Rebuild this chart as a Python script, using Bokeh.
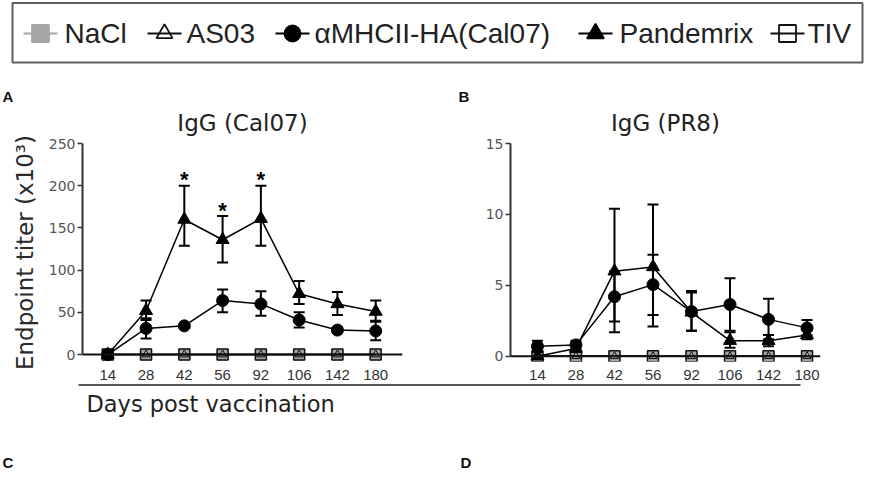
from bokeh.plotting import figure
from bokeh.layouts import column, row
from bokeh.models import (Range1d, FixedTicker, Span, Whisker, TeeHead,
                          ColumnDataSource, Title)
from bokeh.core.properties import value
from bokeh.embed import file_html
from bokeh.resources import INLINE

# ---------------- data ----------------
days = ["14", "28", "42", "56", "92", "106", "142", "180"]
series_names = ["NaCl", "AS03", "\u03b1MHCII-HA(Cal07)", "Pandemrix", "TIV"]

# Panel A: IgG (Cal07), endpoint titer (x10^3)
a_nacl = [0, 0, 0, 0, 0, 0, 0, 0]
a_as03 = [0, 0, 0, 0, 0, 0, 0, 0]
a_tiv = [0, 0, 0, 0, 0, 0, 0, 0]
a_mhc = [0, 31, 34, 64, 60, 41, 29, 28]
a_mhc_hi = [0, 43, 36, 77, 75, 50, 32, 39]
a_mhc_lo = [0, 19, 32, 50, 46, 32, 26, 17]
a_pan = [0, 52, 160, 136, 161, 72, 60, 51]
a_pan_hi = [0, 64, 200, 164, 200, 87, 74, 64]
a_pan_lo = [0, 41, 129, 109, 129, 60, 47, 40]
a_sig = ["42", "56", "92"]

# Panel B: IgG (PR8)
b_nacl = [0, 0, 0, 0, 0, 0, 0, 0]
b_as03 = [0, 0, 0, 0, 0, 0, 0, 0]
b_tiv = [0, 0, 0, 0, 0, 0, 0, 0]
b_mhc = [0.7, 0.8, 4.2, 5.05, 3.15, 3.65, 2.6, 2.0]
b_mhc_hi = [1.1, 1.1, 6.0, 7.15, 4.6, 5.5, 4.05, 2.55]
b_mhc_lo = [0.3, 0.5, 2.45, 2.9, 1.8, 1.8, 1.2, 1.5]
b_pan = [0.0, 0.55, 6.0, 6.3, 3.1, 1.1, 1.1, 1.5]
b_pan_hi = [0.0, 0.8, 10.4, 10.7, 4.5, 1.7, 1.5, 1.85]
b_pan_lo = [0.0, 0.3, 1.7, 2.1, 1.8, 0.6, 0.7, 1.2]

a_yticks = [0, 50, 100, 150, 200, 250]
b_yticks = [0, 5, 10, 15]

# ---------------- styles ----------------
NACL_GRAY = "#a6a6a6"
TXT = "#222222"
FONT = "DejaVu Sans"
FONT2 = "Liberation Sans"
W = 866

xi = list(range(len(days)))


def panel(title, letter, letter_offset, nacl, as03, tiv, mhc, mhc_hi, mhc_lo,
          pan, pan_hi, pan_lo, yticks, ystart, width, bl, br, bt, bb,
          xr, sig=None, ylabel=None):
    p = figure(width=width, height=302, x_range=Range1d(*xr),
               y_range=Range1d(ystart, yticks[-1]),
               output_backend="svg", toolbar_location=None,
               min_border_left=bl, min_border_right=br,
               min_border_top=bt, min_border_bottom=bb,
               outline_line_color=None)
    p.xgrid.visible = False
    p.ygrid.visible = False
    # panel letter (outermost) and panel title (next to the frame)
    p.title.text = letter
    p.title.text_font = FONT2
    p.title.text_font_size = "15px"
    p.title.text_font_style = "bold"
    p.title.text_color = "#111111"
    p.title.align = "left"
    p.title.offset = letter_offset
    p.title.standoff = -10
    tt = Title(text=title, align="center", text_font=FONT,
               text_font_size="23px", text_font_style="normal",
               text_color=TXT, standoff=16)
    p.add_layout(tt, "above")

    # axes
    p.yaxis.ticker = FixedTicker(ticks=yticks)
    p.yaxis.bounds = (yticks[0], yticks[-1])
    p.yaxis.axis_line_width = 2
    p.yaxis.axis_line_color = "#333333"
    p.yaxis.major_tick_line_width = 1.5
    p.yaxis.major_tick_line_color = "#333333"
    p.yaxis.major_tick_out = 5
    p.yaxis.major_tick_in = 0
    p.yaxis.minor_tick_line_color = None
    p.yaxis.major_label_text_font = FONT
    p.yaxis.major_label_text_font_size = "14px"
    p.yaxis.major_label_text_color = "#555555"
    p.yaxis.major_label_standoff = 2
    if ylabel:
        p.yaxis.axis_label = ylabel
        p.yaxis.axis_label_text_font = FONT
        p.yaxis.axis_label_text_font_size = "23px"
        p.yaxis.axis_label_text_font_style = "normal"
        p.yaxis.axis_label_text_color = "#2a2a2a"
        p.yaxis.axis_label_standoff = 8

    p.xaxis.ticker = FixedTicker(ticks=xi)
    p.xaxis.major_label_overrides = {i: d for i, d in enumerate(days)}
    p.xaxis.axis_line_color = None
    p.xaxis.major_tick_line_color = None
    p.xaxis.minor_tick_line_color = None
    p.xaxis.major_label_text_font = FONT2
    p.xaxis.major_label_text_font_size = "15px"
    p.xaxis.major_label_text_color = "#333333"
    p.xaxis.major_label_standoff = 2

    p.add_layout(Span(location=0, dimension="width", line_color="#111111",
                      line_width=2))

    # zero-level groups
    p.line(xi, nacl, line_color=NACL_GRAY, line_width=1.5)
    p.scatter(xi, nacl, marker="square", size=11, fill_color=NACL_GRAY,
              line_color=NACL_GRAY)
    p.line(xi, tiv, line_color="black", line_width=1.5)
    p.scatter(xi, tiv, marker="square", size=11, fill_alpha=0,
              line_color="#111111", line_width=1.5)
    p.line(xi, as03, line_color="black", line_width=1.5)
    p.scatter(xi, as03, marker="triangle", size=8, fill_alpha=0,
              line_color="#111111", line_width=1)

    # aMHCII-HA
    src_m = ColumnDataSource(dict(x=xi, y=mhc, hi=mhc_hi, lo=mhc_lo))
    p.add_layout(Whisker(source=src_m, base="x", upper="hi", lower="lo",
                         line_color="black", line_width=2,
                         upper_head=TeeHead(size=11, line_width=2),
                         lower_head=TeeHead(size=11, line_width=2),
                         level="glyph"))
    p.line("x", "y", source=src_m, line_color="black", line_width=1.5)
    p.scatter("x", "y", source=src_m, marker="circle", size=12,
              fill_color="black", line_color="black")

    # Pandemrix
    src_p = ColumnDataSource(dict(x=xi, y=pan, hi=pan_hi, lo=pan_lo))
    p.add_layout(Whisker(source=src_p, base="x", upper="hi", lower="lo",
                         line_color="black", line_width=2,
                         upper_head=TeeHead(size=11, line_width=2),
                         lower_head=TeeHead(size=11, line_width=2),
                         level="glyph"))
    p.line("x", "y", source=src_p, line_color="black", line_width=1.5)
    p.scatter("x", "y", source=src_p, marker="triangle", size=13,
              fill_color="black", line_color="black")

    if sig:
        sx = [days.index(d) for d in sig]
        sy = [pan_hi[i] for i in sx]
        p.text(sx, sy, text=["*"] * len(sx), text_font=value(FONT2),
               text_font_size="22px", text_font_style="bold",
               text_align="center", text_baseline="alphabetic",
               text_color="#000000", y_offset=-6)
    return p


pA = panel("IgG (Cal07)", "A", -80, a_nacl, a_as03, a_tiv, a_mhc, a_mhc_hi,
           a_mhc_lo, a_pan, a_pan_hi, a_pan_lo, a_yticks, -8.2, 440,
           82, 38, 61, 20, (-0.66, 7.7), sig=a_sig,
           ylabel="Endpoint titer (x10\u00b3)")
pB = panel("IgG (PR8)", "B", -52, b_nacl, b_as03, b_tiv, b_mhc, b_mhc_hi,
           b_mhc_lo, b_pan, b_pan_hi, b_pan_lo, b_yticks, -0.37, W - 440,
           70, W - 820, 63, 20, (-0.7, 7.35))

# ---------------- legend strip ----------------
leg_glyph_x = [40, 164, 292, 595, 787]
leg_text_x = [64, 186, 314, 619, 807]
leg_marker = ["square", "triangle", "circle", "triangle", "square"]
leg_fill = [NACL_GRAY, "white", "black", "black", "white"]
leg_fill_alpha = [1, 0, 1, 1, 0]
leg_line = [NACL_GRAY, "#111111", "black", "black", "#111111"]
leg_size = [17, 16, 16, 17, 17]
LEG_Y = 33

pL = figure(width=W, height=80, x_range=Range1d(0, W),
            y_range=Range1d(80, 0), x_axis_type=None, y_axis_type=None,
            output_backend="svg", toolbar_location=None, min_border=0,
            outline_line_color=None)
pL.xgrid.visible = False
pL.ygrid.visible = False
pL.quad(left=[12], right=[862], top=[2.5], bottom=[62], fill_alpha=0,
        line_color="#5e5e5e", line_width=2)
ls = ColumnDataSource(dict(
    gx=leg_glyph_x, x0=[g - 17 for g in leg_glyph_x],
    x1=[g + 17 for g in leg_glyph_x], y=[LEG_Y] * 5, tx=leg_text_x,
    label=series_names, marker=leg_marker, fill=leg_fill,
    fa=leg_fill_alpha, lc=leg_line, size=leg_size))
pL.segment(x0="x0", x1="x1", y0="y", y1="y", source=ls, line_color="lc",
           line_width=2)
pL.scatter(x="gx", y="y", source=ls, marker="marker", size="size",
           fill_color="fill", fill_alpha="fa", line_color="lc",
           line_width=1.8)
pL.text(x="tx", y="y", text="label", source=ls, text_font=value(FONT2),
        text_font_size="28px", text_baseline="middle", text_align="left",
        text_color=TXT)

# ---------------- bottom strip ----------------
pD = figure(width=W, height=108, x_range=Range1d(0, W),
            y_range=Range1d(490, 382), x_axis_type=None, y_axis_type=None,
            output_backend="svg", toolbar_location=None, min_border=0,
            outline_line_color=None)
pD.xgrid.visible = False
pD.ygrid.visible = False
pD.segment(x0=[78], x1=[800], y0=[384.5], y1=[384.5], line_color="#555555",
           line_width=2)
pD.text(x=[86], y=[403], text=["Days post vaccination"], text_font=value(FONT),
        text_font_size="22.5px", text_baseline="middle", text_align="left",
        text_color=TXT)
pD.text(x=[2, 460], y=[462, 462], text=["C", "D"], text_font=value(FONT2),
        text_font_size="15px", text_font_style="bold", text_baseline="middle",
        text_align="left", text_color="#111111")

layout = column(pL, row(pA, pB), pD)
open("out.html", "w").write(file_html(layout, INLINE))
